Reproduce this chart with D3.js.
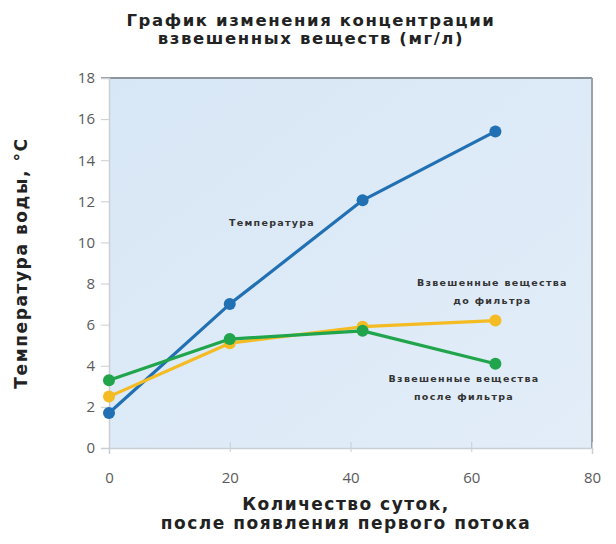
<!DOCTYPE html>
<html>
<head>
<meta charset="utf-8">
<script src="https://cdn.jsdelivr.net/npm/d3@7"></script>
<style>
  html, body { margin: 0; padding: 0; background: #ffffff; }
  svg { display: block; font-family: "DejaVu Sans", sans-serif; }
</style>
</head>
<body>
<svg id="chart" width="616" height="544"></svg>
<script>
// Days since the first flow
const days = [0, 20, 42, 64];
// Water temperature, °C
const temperature = [1.7, 7.0, 12.05, 15.4];
// Suspended solids before the filter, mg/l
const beforeFilter = [2.5, 5.1, 5.9, 6.2];
// Suspended solids after the filter, mg/l
const afterFilter = [3.3, 5.3, 5.7, 4.1];

const xTicks = [0, 20, 40, 60, 80];
const yTicks = [0, 2, 4, 6, 8, 10, 12, 14, 16, 18];

const titleLines = ["График изменения концентрации", "взвешенных веществ (мг/л)"];
const xTitleLines = ["Количество суток,", "после появления первого потока"];
const yTitle = "Температура воды, °С";

const series = [
  { name: "Температура", values: temperature, color: "#2170b4",
    label: ["Температура"], at: [27, 10.8] },
  { name: "до фильтра", values: beforeFilter, color: "#f4bb22",
    label: ["Взвешенные вещества", "до фильтра"], at: [63.5, 7.9] },
  { name: "после фильтра", values: afterFilter, color: "#20a44c",
    label: ["Взвешенные вещества", "после фильтра"], at: [58.8, 3.2] }
];

const svg = d3.select("#chart");
const x = d3.scaleLinear().domain([0, 80]).range([109, 592]);
const y = d3.scaleLinear().domain([0, 18]).range([448, 78]);

// Plot background
const defs = svg.append("defs");
const grad = defs.append("linearGradient").attr("id", "bg")
  .attr("x1", 0).attr("y1", 0).attr("x2", 1).attr("y2", 1);
grad.append("stop").attr("offset", "0%").attr("stop-color", "#d8e7f6");
grad.append("stop").attr("offset", "100%").attr("stop-color", "#e2edf8");

svg.append("rect")
  .attr("x", x(0)).attr("y", y(18))
  .attr("width", x(80) - x(0)).attr("height", y(0) - y(18))
  .attr("fill", "url(#bg)");

// Frame: top and right edges darker, left and bottom light
svg.append("line").attr("x1", x(0) - 8).attr("x2", x(80)).attr("y1", y(18)).attr("y2", y(18))
  .attr("stroke", "#8d959c").attr("stroke-width", 2);
svg.append("line").attr("x1", x(80)).attr("x2", x(80)).attr("y1", y(18)).attr("y2", y(0))
  .attr("stroke", "#9aa2a8").attr("stroke-width", 2);

// Y axis
const yAxis = svg.append("g").attr("transform", `translate(${x(0)},0)`)
  .call(d3.axisLeft(y).tickValues(yTicks).tickSize(8).tickPadding(6).tickFormat(d3.format("d")));
yAxis.select(".domain").attr("stroke", "#c9cfd4").attr("stroke-width", 1.5);
yAxis.selectAll(".tick line").attr("stroke", "#c9cfd4");
yAxis.selectAll(".tick text").attr("fill", "#5a5a5a").attr("font-size", 15)
  .attr("font-family", "'Open Sans', sans-serif");

// X axis
const xAxis = svg.append("g").attr("transform", `translate(0,${y(0)})`)
  .call(d3.axisBottom(x).tickValues(xTicks).tickSize(6).tickPadding(18).tickFormat(d3.format("d")));
xAxis.select(".domain").attr("stroke", "#c9cfd4").attr("stroke-width", 1.5);
xAxis.selectAll(".tick line").attr("stroke", "#c9cfd4").attr("y1", -6).attr("y2", 4);
xAxis.selectAll(".tick text").attr("fill", "#5a5a5a").attr("font-size", 15)
  .attr("font-family", "'Open Sans', sans-serif");

// Series lines and markers
const line = d3.line().x((d, i) => x(days[i])).y(d => y(d));
series.forEach(s => {
  const g = svg.append("g");
  g.append("path").datum(s.values).attr("d", line)
    .attr("fill", "none").attr("stroke", s.color).attr("stroke-width", 3.2)
    .attr("stroke-linejoin", "round");
  g.selectAll("circle").data(s.values).join("circle")
    .attr("cx", (d, i) => x(days[i])).attr("cy", d => y(d)).attr("r", 6)
    .attr("fill", s.color);
});

// Series labels
series.forEach(s => {
  const t = svg.append("text")
    .attr("x", x(s.at[0])).attr("y", y(s.at[1]))
    .attr("text-anchor", "middle").attr("font-size", 9.5).attr("font-weight", "bold")
    .attr("letter-spacing", 1.3).attr("fill", "#333");
  s.label.forEach((l, i) => t.append("tspan").attr("x", x(s.at[0])).attr("dy", i ? 18 : 0).text(l));
});

// Title
const title = svg.append("text").attr("x", 311).attr("y", 26)
  .attr("text-anchor", "middle").attr("font-size", 16.5).attr("font-weight", "bold")
  .attr("letter-spacing", 1.6).attr("fill", "#222");
titleLines.forEach((l, i) => title.append("tspan").attr("x", 311).attr("dy", i ? 18 : 0).text(l));

// X axis title
const xt = svg.append("text").attr("x", 346).attr("y", 510)
  .attr("text-anchor", "middle").attr("font-size", 17).attr("font-weight", "bold")
  .attr("letter-spacing", 1.5).attr("fill", "#222");
xTitleLines.forEach((l, i) => xt.append("tspan").attr("x", 346).attr("dy", i ? 19 : 0).text(l));

// Y axis title
svg.append("text")
  .attr("transform", `translate(27,${y(9)}) rotate(-90)`)
  .attr("text-anchor", "middle").attr("font-size", 17).attr("font-weight", "bold")
  .attr("letter-spacing", 1.6).attr("fill", "#222")
  .text(yTitle);
</script>
</body>
</html>
